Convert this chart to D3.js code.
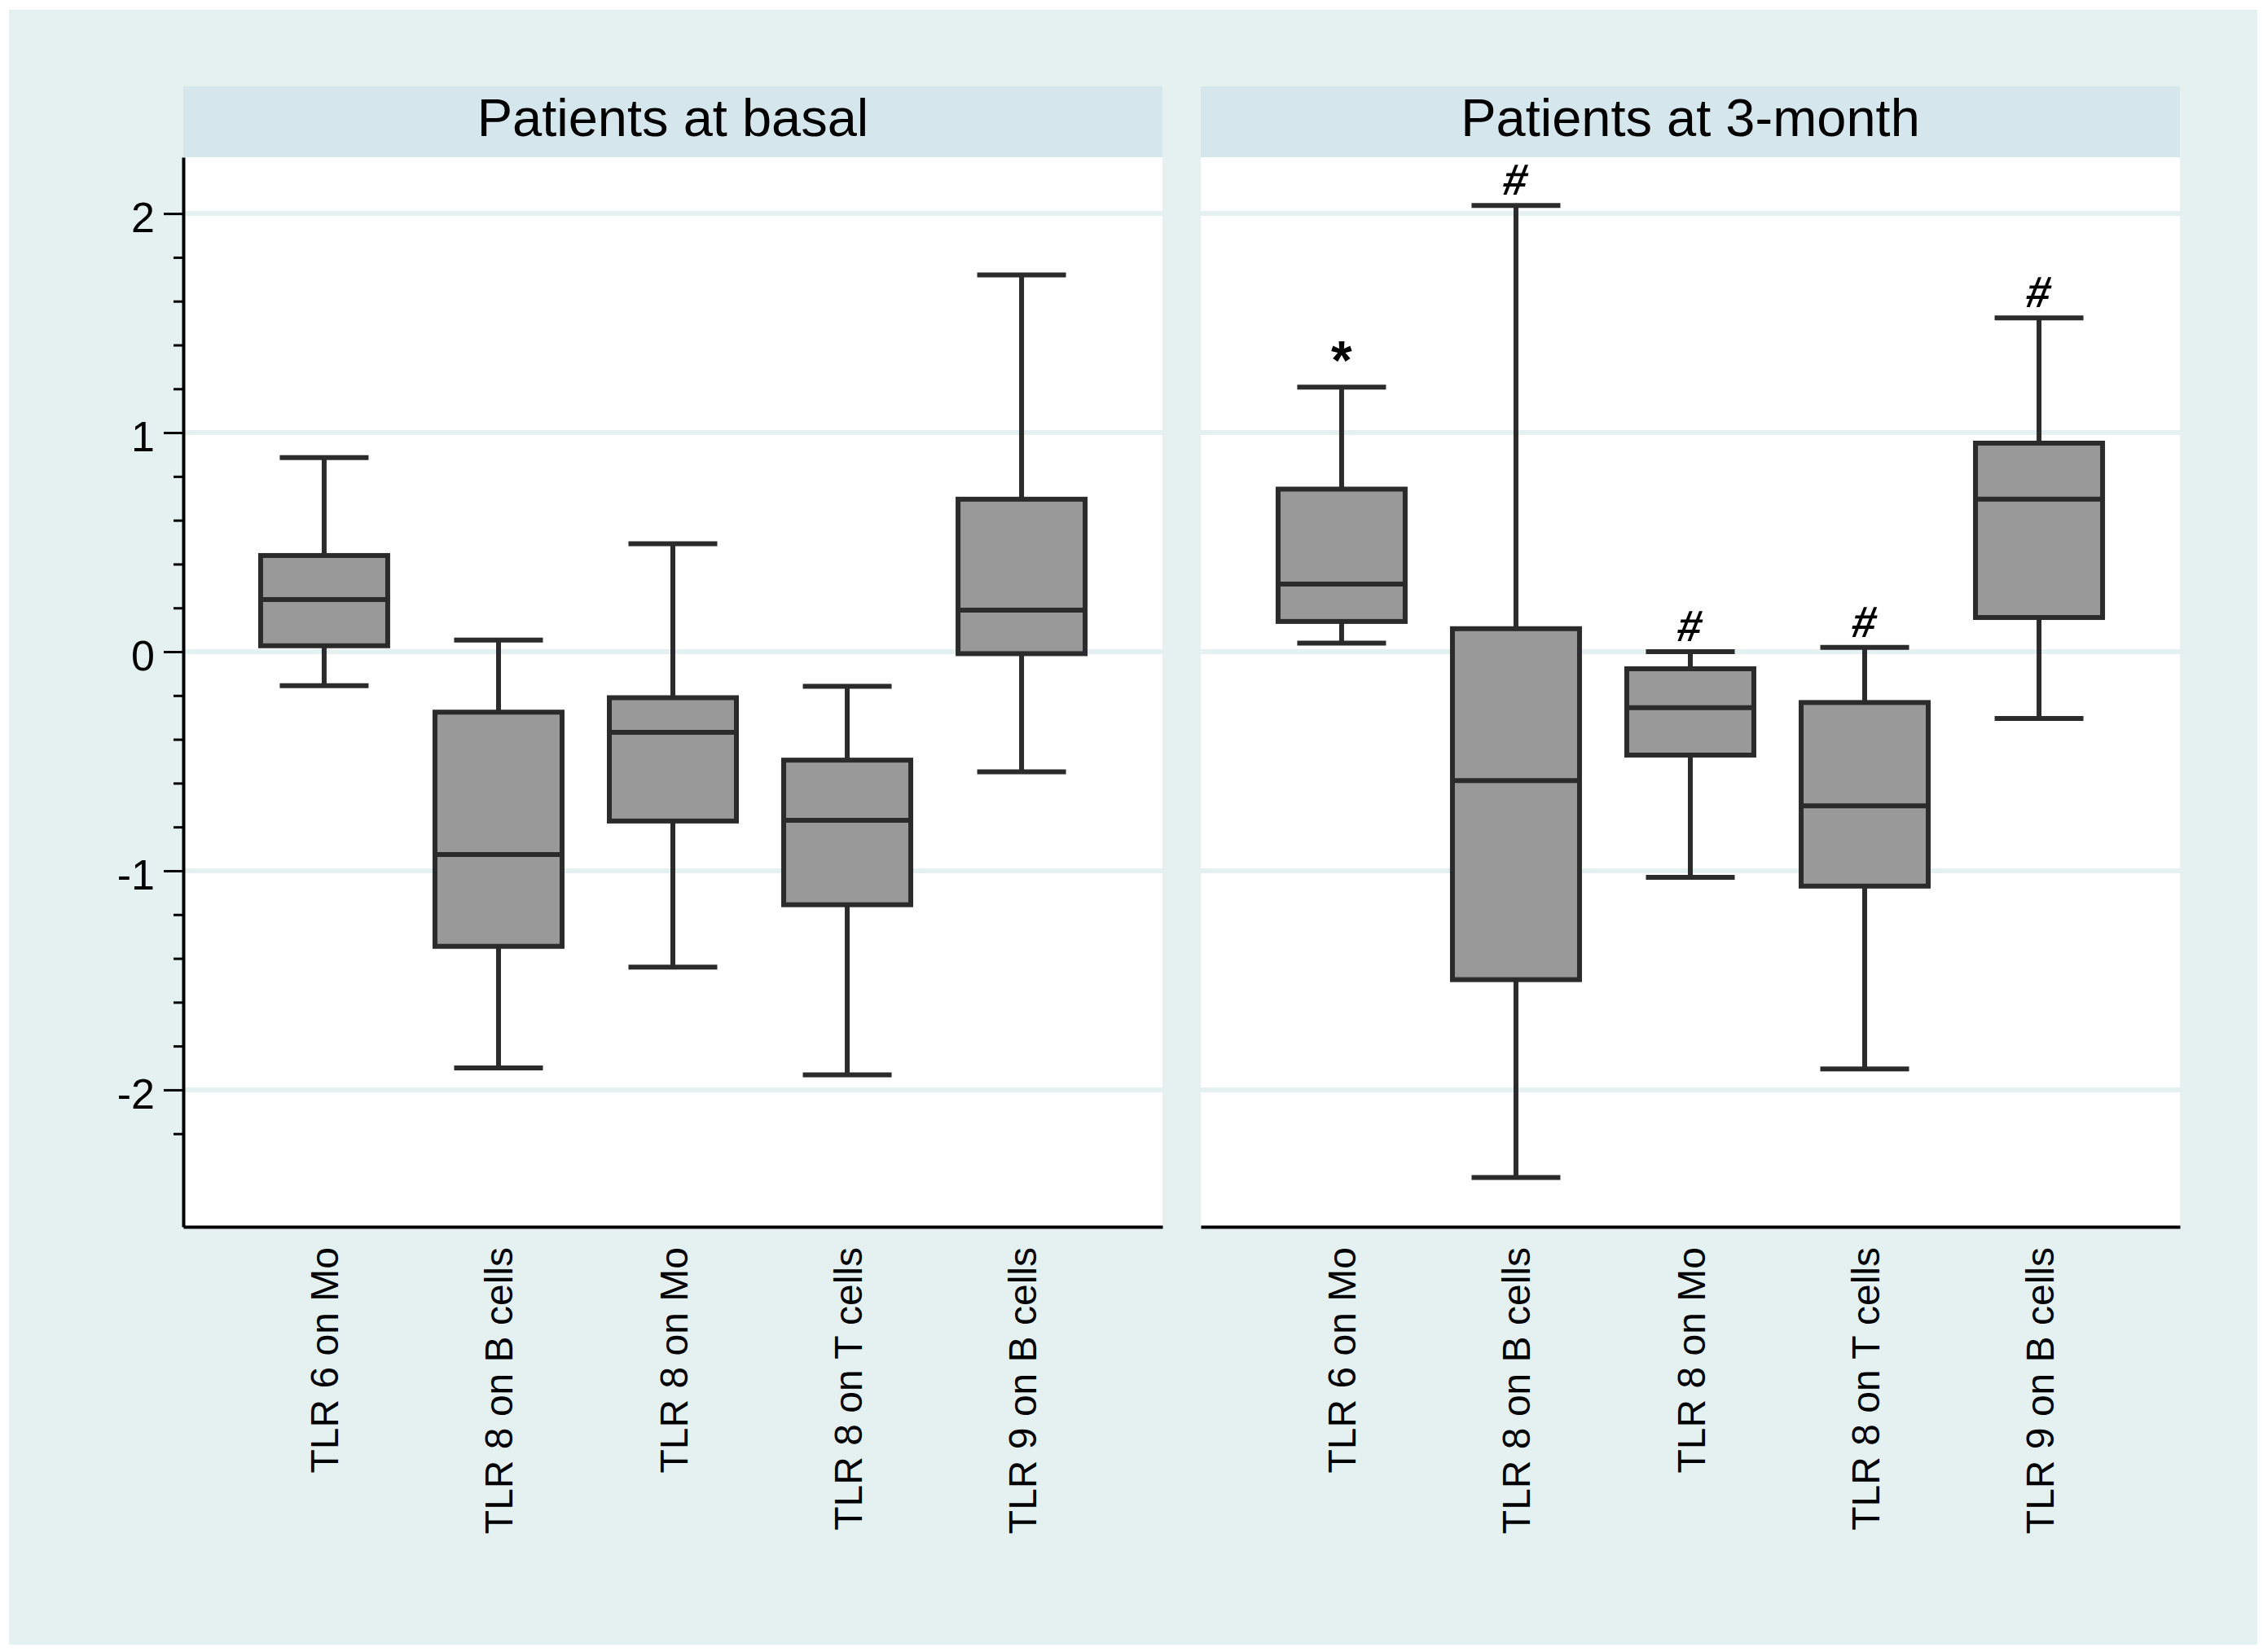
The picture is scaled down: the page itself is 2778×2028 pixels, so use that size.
<!DOCTYPE html>
<html>
<head>
<meta charset="utf-8">
<script src="https://cdn.jsdelivr.net/npm/d3@7"></script>
<style>
html, body { margin: 0; padding: 0; background: #ffffff; }
svg { display: block; }
text { font-family: "Liberation Sans", Arial, Helvetica, sans-serif; fill: #000000; }
</style>
</head>
<body>
<svg id="chart" width="2778" height="2028"></svg>
<script>
// categories and panels
var categories = ["TLR 6 on Mo", "TLR 8 on B cells", "TLR 8 on Mo", "TLR 8 on T cells", "TLR 9 on B cells"];
var panelTitles = ["Patients at basal", "Patients at 3-month"];

// y axis ticks
var yTicks = [-2, -1, 0, 1, 2];
var yMinorTicks = [-2.2, -1.8, -1.6, -1.4, -1.2, -0.8, -0.6, -0.4, -0.2, 0.2, 0.4, 0.6, 0.8, 1.2, 1.4, 1.6, 1.8];

// box statistics, patients at basal
var basalLow = [-0.155, -1.90, -1.44, -1.932, -0.548];
var basalQ1 = [0.027, -1.345, -0.773, -1.155, -0.009];
var basalMedian = [0.238, -0.926, -0.368, -0.77, 0.19];
var basalQ3 = [0.439, -0.276, -0.21, -0.495, 0.696];
var basalHigh = [0.886, 0.053, 0.493, -0.158, 1.72];
var basalMarks = ["", "", "", "", ""];

// box statistics, patients at 3-month
var monthLow = [0.039, -2.40, -1.03, -1.905, -0.305];
var monthQ1 = [0.138, -1.497, -0.472, -1.07, 0.156];
var monthMedian = [0.309, -0.588, -0.256, -0.704, 0.696];
var monthQ3 = [0.742, 0.105, -0.078, -0.232, 0.952];
var monthHigh = [1.208, 2.037, 0.0, 0.02, 1.524];
var monthMarks = ["*", "#", "#", "#", "#"];

var panels = [
    {title: panelTitles[0], low: basalLow, q1: basalQ1, median: basalMedian, q3: basalQ3, high: basalHigh, marks: basalMarks},
    {title: panelTitles[1], low: monthLow, q1: monthQ1, median: monthMedian, q3: monthQ3, high: monthHigh, marks: monthMarks}
];

var bgColor = "#e5f1f1",
    stripColor = "#d5e6ec",
    boxFill = "#999999",
    boxStroke = "#2b2b2b";

var panelLeft = [225, 1474],
    panelWidth = 1202,
    stripTop = 106,
    plotTop = 193,
    plotBottom = 1506,
    boxWidth = 156,
    capWidth = 109;

var svg = d3.select("#chart");

svg.append("rect")
    .attr("x", 11)
    .attr("y", 12)
    .attr("width", 2760)
    .attr("height", 2007)
    .attr("fill", bgColor);

var y = d3.scaleLinear()
    .domain([-2.625, 2.257])
    .range([plotBottom, plotTop]);

var x = d3.scalePoint()
    .domain(categories)
    .range([0, panelWidth])
    .padding(0.808);

var fmt = function (d) { return String(d).replace("\u2212", "-"); };

panels.forEach(function (p, pi) {
    var g = svg.append("g").attr("transform", "translate(" + panelLeft[pi] + ",0)");

    // strip
    g.append("rect")
        .attr("x", 0)
        .attr("y", stripTop)
        .attr("width", panelWidth)
        .attr("height", plotTop - stripTop)
        .attr("fill", stripColor);
    g.append("text")
        .attr("x", panelWidth / 2)
        .attr("y", 167)
        .attr("text-anchor", "middle")
        .style("font-size", "65px")
        .text(p.title);

    // plot region
    g.append("rect")
        .attr("x", 0)
        .attr("y", plotTop)
        .attr("width", panelWidth)
        .attr("height", plotBottom - plotTop)
        .attr("fill", "#ffffff");

    g.selectAll("line.grid")
        .data(yTicks)
        .enter().append("line")
        .attr("class", "grid")
        .attr("x1", 0)
        .attr("x2", panelWidth)
        .attr("y1", function (d) { return y(d); })
        .attr("y2", function (d) { return y(d); })
        .attr("stroke", bgColor)
        .attr("stroke-width", 6);

    // boxes
    var box = g.selectAll("g.box")
        .data(categories)
        .enter().append("g")
        .attr("class", "box")
        .attr("transform", function (d) { return "translate(" + x(d) + ",0)"; });

    box.append("line")
        .attr("x1", 0).attr("x2", 0)
        .attr("y1", function (d, i) { return y(p.q3[i]); })
        .attr("y2", function (d, i) { return y(p.high[i]); })
        .attr("stroke", boxStroke)
        .attr("stroke-width", 6);
    box.append("line")
        .attr("x1", 0).attr("x2", 0)
        .attr("y1", function (d, i) { return y(p.q1[i]); })
        .attr("y2", function (d, i) { return y(p.low[i]); })
        .attr("stroke", boxStroke)
        .attr("stroke-width", 6);
    box.append("line")
        .attr("x1", -capWidth / 2).attr("x2", capWidth / 2)
        .attr("y1", function (d, i) { return y(p.high[i]); })
        .attr("y2", function (d, i) { return y(p.high[i]); })
        .attr("stroke", boxStroke)
        .attr("stroke-width", 6);
    box.append("line")
        .attr("x1", -capWidth / 2).attr("x2", capWidth / 2)
        .attr("y1", function (d, i) { return y(p.low[i]); })
        .attr("y2", function (d, i) { return y(p.low[i]); })
        .attr("stroke", boxStroke)
        .attr("stroke-width", 6);
    box.append("rect")
        .attr("x", -boxWidth / 2)
        .attr("width", boxWidth)
        .attr("y", function (d, i) { return y(p.q3[i]); })
        .attr("height", function (d, i) { return y(p.q1[i]) - y(p.q3[i]); })
        .attr("fill", boxFill)
        .attr("stroke", boxStroke)
        .attr("stroke-width", 6);
    box.append("line")
        .attr("x1", -boxWidth / 2).attr("x2", boxWidth / 2)
        .attr("y1", function (d, i) { return y(p.median[i]); })
        .attr("y2", function (d, i) { return y(p.median[i]); })
        .attr("stroke", boxStroke)
        .attr("stroke-width", 6);

    // significance marks above the upper whisker
    box.append("text")
        .attr("x", 0)
        .attr("y", function (d, i) { return y(p.high[i]) - (p.marks[i] === "*" ? 10 : 13); })
        .attr("text-anchor", "middle")
        .style("font-size", function (d, i) { return p.marks[i] === "*" ? "66px" : "54px"; })
        .style("font-weight", "bold")
        .attr("transform", function (d, i) {
            // slant the hash like the original glyph, pivot on its middle
            var yy = y(p.high[i]) - 13 - 19;
            return p.marks[i] === "#" ? "translate(" + (0.1763 * yy) + ",0) skewX(-10)" : null;
        })
        .text(function (d, i) { return p.marks[i]; });

    // category axis
    var xAxis = g.append("g")
        .attr("transform", "translate(0," + plotBottom + ")")
        .call(d3.axisBottom(x).tickSize(0));
    xAxis.select(".domain")
        .attr("stroke", "#000000")
        .attr("stroke-width", 4);
    xAxis.selectAll("text")
        .attr("font-family", null)
        .style("font-size", "48px")
        .attr("text-anchor", "end")
        .attr("transform", "rotate(-90)")
        .attr("x", -25)
        .attr("y", 17)
        .attr("dy", null);

    // value axis on the first panel only
    if (pi === 0) {
        var minor = g.append("g")
            .call(d3.axisLeft(y).tickValues(yMinorTicks).tickSize(12).tickFormat(""));
        minor.select(".domain").remove();
        minor.selectAll("line").attr("stroke", "#000000").attr("stroke-width", 3);

        var yAxis = g.append("g")
            .call(d3.axisLeft(y).tickValues(yTicks).tickSize(24).tickSizeOuter(0).tickPadding(11).tickFormat(fmt));
        yAxis.attr("font-family", null).attr("font-size", null);
        yAxis.select(".domain")
            .attr("stroke", "#000000")
            .attr("stroke-width", 4);
        yAxis.selectAll(".tick line")
            .attr("stroke", "#000000")
            .attr("stroke-width", 3);
        yAxis.selectAll("text")
            .style("font-size", "52px")
            .attr("dy", "0.43em");
    }
});
</script>
</body>
</html>
